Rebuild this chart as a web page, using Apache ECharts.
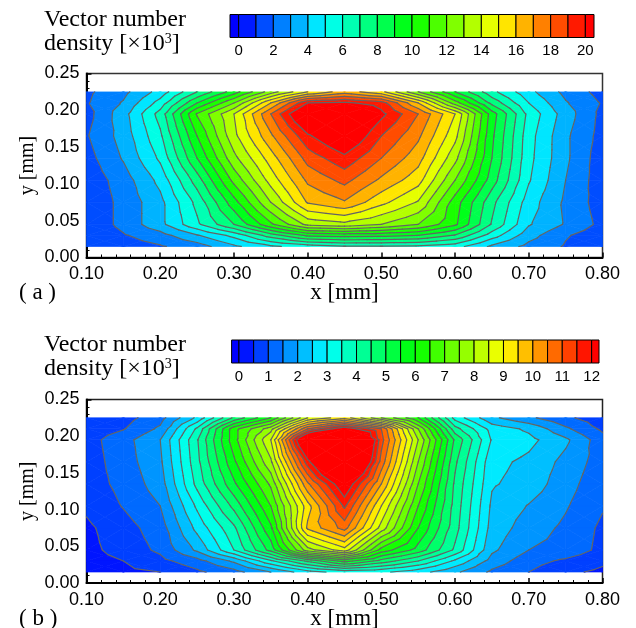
<!DOCTYPE html>
<html><head><meta charset="utf-8">
<style>html,body{margin:0;padding:0;background:#fff}#c{width:636px;height:628px}</style>
<script src="https://cdn.jsdelivr.net/npm/echarts@6/dist/echarts.min.js"></script>
</head><body><div id="c"></div>
<script>
const xNodes = [0.10,0.15,0.20,0.25,0.30,0.35,0.40,0.45,0.50,0.55,0.60,0.65,0.70,0.75,0.80];
const yNodes = [0.225,0.21,0.195,0.165,0.135,0.105,0.075,0.045,0.03,0.015];
const densityA = [
 [1.8,2.7,4.4,7,9.5,12.5,15,16.5,15.3,12,9,6.3,4.3,2.7,1.6],
 [1.9,3.1,5.4,9,12,16,20,20.2,19.5,16,11.5,7.7,5,3.1,1.9],
 [1.6,3.6,6.4,11.1,14,18,22,22.5,20.3,18,15,9.5,5.7,3.5,1.7],
 [1.9,3.4,5.8,10,13.7,16.8,19.8,21.5,19,17.2,14.3,9.2,5.4,3.2,1.6],
 [1.6,3.1,5.2,9,12.7,15.5,18.4,19.7,18,16.4,13.3,9,5.3,3.2,1.4],
 [1.3,2.5,4.3,7.5,11.3,14.4,17.2,18.3,16.8,15.4,12,8.5,5.1,3,1.4],
 [1.2,2.3,3.7,6.3,9.6,13,16.1,16.9,15.3,13.9,10.5,7.3,4.5,2.8,1.5],
 [1.2,2.3,3.7,5.8,8,10.8,13.3,13.7,13,12,10.2,6.9,4.1,2.9,1.7],
 [1.1,1.9,2.6,3.9,5.3,7.5,9.2,9.4,9.3,9,7.9,5.5,3.4,2.1,1.4],
 [1.1,1.5,1.9,2.5,3.8,4.8,5.5,5.9,5.9,5.8,5.4,3.8,2.7,1.9,1.2]
];
const densityB = [
 [0.6,0.8,1.3,2.6,4.6,6,8.5,9.3,7.5,6,3.3,2.1,1.6,1.1,0.7],
 [0.7,0.97,1.6,3.6,6.3,7.8,11,12.5,11,7.5,4.2,2.8,2.4,1.6,0.9],
 [0.8,1.3,2,3.95,6.3,8.5,13.5,16,11.2,8,4.9,2.95,2.65,2.1,1.2],
 [0.75,1.25,1.9,3.85,5.9,7.9,11.8,15,10.8,7.5,4.6,2.65,2.38,1.85,1.25],
 [0.75,1.15,1.75,3.65,5.4,7.1,10.4,12.6,10,7,4.4,2.55,2.3,1.7,1.15],
 [0.6,1.03,1.5,3.1,4.65,6.5,9.3,11.6,9,6.5,4.3,2.4,1.97,1.55,1.05],
 [0.4,0.8,1.25,2.65,3.9,5.9,9.6,10.7,8.3,6,4.2,2.3,1.75,1.4,0.9],
 [0.35,0.7,1.1,2.1,3.5,5.2,7.8,8.8,6.3,5.3,3.9,2.1,1.5,1.35,0.85],
 [0.3,0.5,0.85,1.3,2.1,3.4,4.6,5.7,4.8,4,2.9,1.8,1.2,0.9,0.6],
 [0.3,0.4,0.5,0.9,1.3,2,2.8,3.2,3.1,2.7,2.1,1.4,1,0.6,0.4]
];
const levelsA = [0,1,2,3,4,5,6,7,8,9,10,11,12,13,14,15,16,17,18,19,20];
const levelsB = [0,0.5,1,1.5,2,2.5,3,3.5,4,4.5,5,5.5,6,6.5,7,7.5,8,8.5,9,9.5,10,10.5,11,11.5,12];
const barLabelsA = [0,2,4,6,8,10,12,14,16,18,20];
const barLabelsB = [0,1,2,3,4,5,6,7,8,9,10,11,12];

const RAINBOW = [[0,0,255],[0,255,255],[0,255,0],[255,255,0],[255,0,0]];
function rainbow(t){
  t=Math.max(0,Math.min(1,t))*4; const i=Math.min(3,Math.floor(t)), f=t-i;
  const a=RAINBOW[i], b=RAINBOW[i+1];
  return 'rgb('+a.map((c,k)=>Math.round(c+(b[k]-c)*f)).join(',')+')';
}
function makeBands(levels){
  const top=levels[levels.length-1], out=[];
  const step=levels[1]-levels[0];
  out.push({lo:-Infinity,hi:levels[0],color:rainbow(0)});
  for(let i=0;i<levels.length-1;i++) out.push({lo:levels[i],hi:levels[i+1],color:rainbow((levels[i]+step/2)/top)});
  out.push({lo:top,hi:Infinity,color:rainbow(1)});
  return out;
}
function clipAbove(poly,l,keepAbove){
  const out=[]; const inside=v=>keepAbove? v>=l : v<=l;
  for(let i=0;i<poly.length;i++){
    const p=poly[i], q=poly[(i+1)%poly.length];
    const a=inside(p[2]), b=inside(q[2]);
    if(a) out.push(p);
    if(a!==b){const f=(l-p[2])/(q[2]-p[2]); out.push([p[0]+(q[0]-p[0])*f,p[1]+(q[1]-p[1])*f,l]);}
  }
  return out;
}
function cellTriangles(grid,i,j){
  const x0=xNodes[i],x1=xNodes[i+1],y0=yNodes[j],y1=yNodes[j+1];
  const A=[x0,y0,grid[j][i]],B=[x1,y0,grid[j][i+1]],C=[x1,y1,grid[j+1][i+1]],D=[x0,y1,grid[j+1][i]];
  const M=[(x0+x1)/2,(y0+y1)/2,(A[2]+B[2]+C[2]+D[2])/4];
  return [[A,B,M],[B,C,M],[C,D,M],[D,A,M]];
}
const cells=[];
for(let j=0;j<yNodes.length-1;j++)for(let i=0;i<xNodes.length-1;i++)cells.push([xNodes[i],yNodes[j],i,j]);

function fillSeries(grid,levels,ax){
  const bands=makeBands(levels);
  return {type:'custom',xAxisIndex:ax,yAxisIndex:ax,silent:true,animation:false,z:2,encode:{x:0,y:1},data:cells,
    renderItem(p,api){
      const tris=cellTriangles(grid,api.value(2),api.value(3)), children=[];
      tris.forEach(t=>bands.forEach(b=>{
        let poly=t;
        if(isFinite(b.lo)) poly=clipAbove(poly,b.lo,true);
        if(poly.length&&isFinite(b.hi)) poly=clipAbove(poly,b.hi,false);
        if(poly.length>2) children.push({type:'polygon',shape:{points:poly.map(v=>api.coord([v[0],v[1]]))},
          style:{fill:b.color,stroke:b.color,lineWidth:0.7}});
      }));
      return {type:'group',children};
    }};
}
function lineSeries(grid,levels,ax){
  return {type:'custom',xAxisIndex:ax,yAxisIndex:ax,silent:true,animation:false,z:3,encode:{x:0,y:1},data:cells,
    renderItem(p,api){
      const tris=cellTriangles(grid,api.value(2),api.value(3)), children=[];
      tris.forEach(t=>levels.forEach(l=>{
        const pts=[];
        for(let k=0;k<3;k++){
          const a=t[k],b=t[(k+1)%3];
          if((a[2]<l)!==(b[2]<l)){const f=(l-a[2])/(b[2]-a[2]);pts.push([a[0]+(b[0]-a[0])*f,a[1]+(b[1]-a[1])*f]);}
        }
        if(pts.length===2){
          const s=api.coord(pts[0]),e=api.coord(pts[1]);
          children.push({type:'line',shape:{x1:s[0],y1:s[1],x2:e[0],y2:e[1]},style:{stroke:'#646464',lineWidth:1.2,lineCap:'round'}});
        }
      }));
      return {type:'group',children};
    }};
}
function barSeries(levels,ax,lo,hi){
  const bands=makeBands(levels);
  const data=bands.map(b=>[isFinite(b.lo)?b.lo:lo,isFinite(b.hi)?b.hi:hi]);
  return {type:'custom',xAxisIndex:ax,yAxisIndex:ax,silent:true,animation:false,z:2,encode:{x:[0,1]},data,
    renderItem(p,api){
      const s=api.coord([api.value(0),0]), e=api.coord([api.value(1),1]);
      return {type:'rect',shape:{x:s[0],y:e[1],width:e[0]-s[0],height:s[1]-e[1]},
        style:{fill:bands[p.dataIndex].color,stroke:'#000',lineWidth:1}};
    }};
}
const sans='"Liberation Sans",Arial,sans-serif', serif='"Liberation Serif","Times New Roman",serif';
function plotX(grid,name,gap){return {type:'value',gridIndex:grid,min:0.1,max:0.8,interval:0.1,
  name,nameLocation:'middle',nameGap:gap,nameMoveOverlap:false,nameTextStyle:{fontFamily:serif,fontSize:23,color:'#000'},
  axisLine:{show:true,onZero:false,lineStyle:{color:'#000',width:2}},
  axisTick:{show:true,inside:true,length:5,lineStyle:{color:'#000',width:1.5}},
  minorTick:{show:true,splitNumber:5,length:3,lineStyle:{color:'#000',width:1}},
  splitLine:{show:false},
  axisLabel:{fontFamily:sans,fontSize:18,color:'#000',margin:8,formatter:v=>v.toFixed(2)}};}
function plotY(grid){return {type:'value',gridIndex:grid,min:0,max:0.25,interval:0.05,
  name:'y [mm]',nameLocation:'middle',nameGap:49,nameMoveOverlap:false,nameTextStyle:{fontFamily:serif,fontSize:20,color:'#000'},
  axisLine:{show:true,onZero:false,lineStyle:{color:'#000',width:2}},
  axisTick:{show:true,inside:true,length:5,lineStyle:{color:'#000',width:1.5}},
  minorTick:{show:true,splitNumber:5,length:3,lineStyle:{color:'#000',width:1}},
  splitLine:{show:false},
  axisLabel:{fontFamily:sans,fontSize:18,color:'#000',margin:7,formatter:v=>v.toFixed(2)}};}
function barX(grid,lo,hi,labels){return {type:'value',gridIndex:grid,min:lo,max:hi,
  axisLine:{show:false},axisTick:{show:false},splitLine:{show:false},
  axisLabel:{fontFamily:sans,fontSize:15,color:'#000',margin:6,customValues:labels,formatter:v=>String(v)}};}
function barY(grid){return {type:'value',gridIndex:grid,min:0,max:1,show:false};}

const chart=echarts.init(document.getElementById('c'),null,{renderer:'canvas'});
const titleText='Vector number\ndensity [×10{sup|3}]';
function titleAt(top){return {text:titleText,left:44,top,padding:0,textStyle:{fontFamily:serif,fontSize:24,fontWeight:'normal',color:'#000',lineHeight:24,
  rich:{sup:{fontFamily:serif,fontSize:14,color:'#000',verticalAlign:'top',lineHeight:24,padding:[0,0,8,0]}}}};}
function tagAt(text,top){return {text,left:19,top,padding:0,textStyle:{fontFamily:serif,fontSize:23,fontWeight:'normal',color:'#000'}};}
chart.setOption({
  animation:false,backgroundColor:'#fff',
  title:[titleAt(8),titleAt(333),tagAt('( a )',281),tagAt('( b )',607)],
  grid:[
    {left:86.5,top:73.5,width:516,height:184,show:true,borderColor:'#333',borderWidth:1.5,backgroundColor:'#fff',outerBoundsMode:'none'},
    {left:86.5,top:399.5,width:516,height:183.5,show:true,borderColor:'#222',borderWidth:1.5,backgroundColor:'#fff',outerBoundsMode:'none'},
    {left:230,top:14.5,width:364,height:23,outerBoundsMode:'none'},
    {left:231.6,top:340,width:367.4,height:23,outerBoundsMode:'none'}
  ],
  xAxis:[plotX(0,'x [mm]',24),plotX(1,'x [mm]',24),barX(2,-0.5,20.5,barLabelsA),barX(3,-0.25,12.25,barLabelsB)],
  yAxis:[plotY(0),plotY(1),barY(2),barY(3)],
  series:[
    fillSeries(densityA,levelsA,0),lineSeries(densityA,levelsA,0),
    fillSeries(densityB,levelsB,1),lineSeries(densityB,levelsB,1),
    barSeries(levelsA,2,-0.5,20.5),barSeries(levelsB,3,-0.25,12.25)
  ]
});
</script></body></html>
